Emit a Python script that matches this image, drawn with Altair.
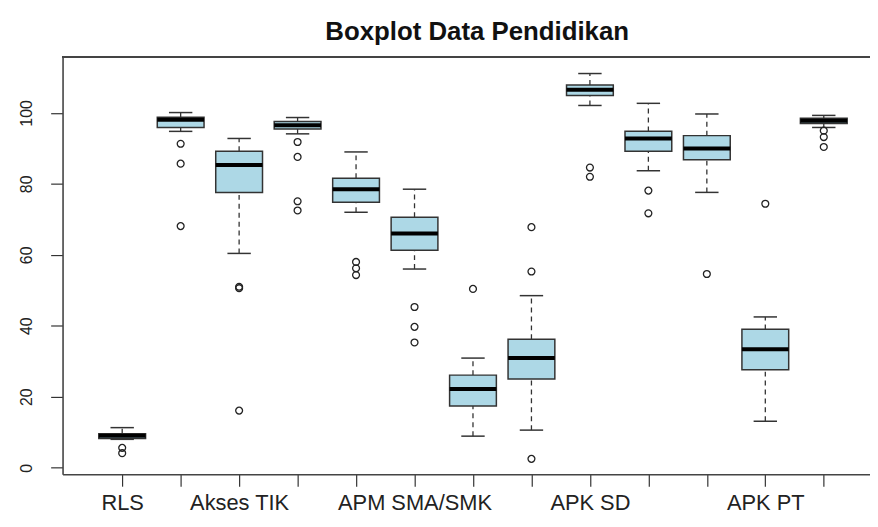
import altair as alt
import pandas as pd

# ---- data ----
categories = ["RLS", "AMH", "Akses TIK", "APM SD", "APM SMP", "APM SMA/SMK", "APM PT",
              "APK PAUD", "APK SD", "APK SMP", "APK SMA/SMK", "APK PT", "Sekolah Layak"]
tick_labels = ["RLS", "", "Akses TIK", "", "", "APM SMA/SMK", "", "", "APK SD", "", "", "APK PT", ""]
whisker_low = [8.0, 94.8, 60.4, 94.1, 72.0, 56.0, 8.9, 10.6, 102.1, 83.7, 77.6, 13.1, 95.9]
q1 = [8.2, 95.9, 77.6, 95.5, 74.8, 61.3, 17.4, 25.0, 104.9, 89.2, 86.8, 27.6, 97.0]
median = [9.0, 98.1, 85.3, 96.5, 78.5, 66.0, 22.2, 30.9, 106.5, 92.8, 90.0, 33.4, 97.8]
q3 = [9.6, 98.8, 89.2, 97.6, 81.6, 70.6, 26.1, 36.2, 107.9, 94.8, 93.6, 39.0, 98.5]
whisker_high = [11.3, 100.1, 92.8, 98.7, 89.0, 78.5, 30.9, 48.5, 111.1, 102.7, 99.7, 42.5, 99.3]
outliers = [
    [5.6, 4.1],
    [91.3, 85.7, 68.1],
    [51.0, 50.6, 16.1],
    [91.8, 87.6, 75.1, 72.5],
    [58.0, 56.2, 54.3],
    [45.3, 39.7, 35.3],
    [50.4],
    [67.8, 55.3, 2.5],
    [84.6, 82.0],
    [78.1, 71.7],
    [54.6],
    [74.4],
    [95.0, 93.2, 90.4],
]
y_ticks = [0, 20, 40, 60, 80, 100]
title_text = "Boxplot Data Pendidikan"

positions = list(range(1, len(categories) + 1))
stats = pd.DataFrame({
    "cat": categories, "pos": positions, "lo": whisker_low, "q1": q1,
    "med": median, "q3": q3, "hi": whisker_high,
})
out_rows = [{"cat": c, "pos": p, "val": v}
            for c, p, vals in zip(categories, positions, outliers) for v in vals]
out_df = pd.DataFrame(out_rows)

W, H = 814, 421
PX_PER_UNIT = 58.94
x_scale = alt.Scale(domain=[-0.02, -0.02 + W / PX_PER_UNIT], nice=False, zero=False)
y_scale = alt.Scale(domain=[-1.85, 115.85], nice=False, zero=False)

FONT = "Liberation Sans"
label_arr = "[" + ",".join("'" + t + "'" for t in tick_labels) + "]"

x_axis = alt.Axis(values=positions, labelExpr=label_arr + "[datum.value - 1]",
                  title=None, grid=False, tickSize=12, tickColor="#333333", tickWidth=1.2,
                  domainColor="#444444", domainWidth=1.6, labelFont=FONT, labelFontSize=22,
                  labelColor="#222222", labelPadding=24, labelBaseline="alphabetic",
                  labelOverlap=False, labelFlush=False, labelBound=False)
y_axis = alt.Axis(values=y_ticks, title=None, grid=False, tickSize=12, tickColor="#333333",
                  tickWidth=1.2, domainColor="#444444", domainWidth=1.6, labelFont=FONT,
                  labelFontSize=16, labelColor="#222222", labelAngle=270, labelAlign="center",
                  labelBaseline="alphabetic", labelPadding=19, labelFlush=False,
                  labelOverlap=False, labelBound=False)

base = alt.Chart(stats).transform_calculate(
    bl="datum.pos - 0.4", br="datum.pos + 0.4",
    cl="datum.pos - 0.2", cr="datum.pos + 0.2",
)

whisk_up = base.mark_rule(color="#333333", strokeWidth=1.3, strokeDash=[5, 4]).encode(
    x=alt.X("pos:Q", scale=x_scale, axis=x_axis),
    y=alt.Y("q3:Q", scale=y_scale, axis=y_axis), y2="hi:Q")
whisk_dn = base.mark_rule(color="#333333", strokeWidth=1.3, strokeDash=[5, 4]).encode(
    x="pos:Q", y="lo:Q", y2="q1:Q")
cap_up = base.mark_rule(color="#333333", strokeWidth=1.5).encode(
    x="cl:Q", x2="cr:Q", y="hi:Q")
cap_dn = base.mark_rule(color="#333333", strokeWidth=1.5).encode(
    x="cl:Q", x2="cr:Q", y="lo:Q")
box = base.mark_bar(fill="#ADD8E6", stroke="#333333", strokeWidth=1.5).encode(
    x="bl:Q", x2="br:Q", y="q1:Q", y2="q3:Q")
med = base.mark_rule(color="#000000", strokeWidth=4).encode(
    x="bl:Q", x2="br:Q", y="med:Q")
pts = alt.Chart(out_df).mark_point(shape="circle", filled=False, color="#222222",
                                   size=48, strokeWidth=1.3, opacity=1).encode(
    x="pos:Q", y="val:Q")
top_line = alt.Chart(stats).mark_rule(color="#444444", strokeWidth=1.6).encode(
    x=alt.value(0), x2=alt.value(W), y=alt.value(0))
title = alt.Chart(pd.DataFrame({"t": [title_text]})).mark_text(
    font=FONT, fontSize=26, fontWeight="bold", color="#111111",
    align="center", baseline="alphabetic").encode(
    text="t:N", x=alt.value(418), y=alt.value(-17))

chart = alt.layer(whisk_up, whisk_dn, cap_up, cap_dn, box, med, pts, top_line, title).properties(
    width=W, height=H,
    autosize=alt.AutoSizeParams(type="none"),
    padding={"left": 55, "top": 47, "right": 0, "bottom": 43},
).configure_view(stroke=None)

chart.save("out.html", embed_options={"renderer": "svg", "actions": False})
